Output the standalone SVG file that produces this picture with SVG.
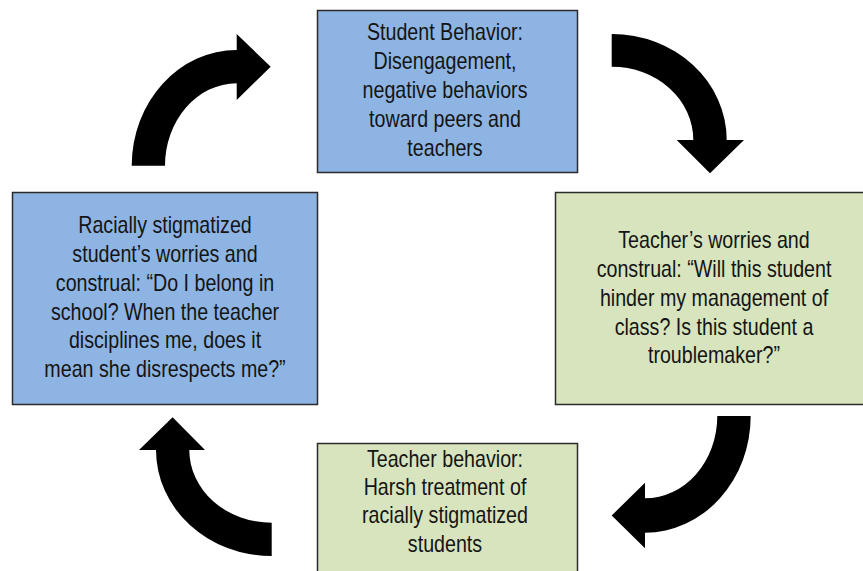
<svg xmlns="http://www.w3.org/2000/svg" width="863" height="571" viewBox="0 0 863 571">
<style>
  .blue { fill: #8EB4E3; stroke: #2b2b2b; stroke-width: 1.5; }
  .green { fill: #D7E4BD; stroke: #2b2b2b; stroke-width: 1.5; }
  .lbl { font-family: "Liberation Sans", Arial, sans-serif; font-size: 23px; fill: #141414; text-anchor: middle; }
  .arrow { fill: #000000; stroke: none; }
</style>
<rect x="0" y="0" width="863" height="571" fill="#ffffff"/>
<g id="connectors">
  <path class="arrow" d="M131.7,165.7 A105,115.7 0 0 1 236.7,50 L236.7,34 L270.7,66.7 L236.7,100 L236.7,83.3 A71.7,82.4 0 0 0 165,165.7 Z"/>
  <path class="arrow" d="M611.7,34 A115,106 0 0 1 726.7,140 L744,140 L710,173.3 L676.7,140 L693.3,140 A81.6,73.3 0 0 0 611.7,66.7 Z"/>
  <path class="arrow" d="M750.7,416 A105.7,116.7 0 0 1 645,532.7 L645,548.3 L611.7,515.5 L645,482.7 L645,498.3 A72.3,82.3 0 0 0 717.3,416 Z"/>
  <path class="arrow" d="M271.7,556 A115.7,106 0 0 1 156,450 L139,450 L172.6,417.3 L205,450 L189.3,450 A82.4,72.7 0 0 0 271.7,522.7 Z"/>
</g>
<g id="student-behavior">
  <rect class="blue" x="317.5" y="10.5" width="260" height="162"/>
  <g transform="translate(445,0) scale(0.855,1)">
    <text class="lbl" x="0" y="40">Student Behavior:</text>
    <text class="lbl" x="0" y="69">Disengagement,</text>
    <text class="lbl" x="0" y="98">negative behaviors</text>
    <text class="lbl" x="0" y="127">toward peers and</text>
    <text class="lbl" x="0" y="156.5">teachers</text>
  </g>
</g>
<g id="teacher-worries">
  <rect class="green" x="555.5" y="192.5" width="320" height="212"/>
  <g transform="translate(714,0) scale(0.855,1)">
    <text class="lbl" x="0" y="248.3">Teacher’s worries and</text>
    <text class="lbl" x="0" y="277">construal: “Will this student</text>
    <text class="lbl" x="0" y="305.8">hinder my management of</text>
    <text class="lbl" x="0" y="334.6">class? Is this student a</text>
    <text class="lbl" x="0" y="363.4">troublemaker?”</text>
  </g>
</g>
<g id="teacher-behavior">
  <rect class="green" x="317.5" y="443.5" width="260" height="140"/>
  <g transform="translate(445,0) scale(0.855,1)">
    <text class="lbl" x="0" y="466.7">Teacher behavior:</text>
    <text class="lbl" x="0" y="495">Harsh treatment of</text>
    <text class="lbl" x="0" y="523.3">racially stigmatized</text>
    <text class="lbl" x="0" y="551.7">students</text>
  </g>
</g>
<g id="student-worries">
  <rect class="blue" x="12.5" y="192.5" width="305" height="212"/>
  <g transform="translate(165,0) scale(0.855,1)">
    <text class="lbl" x="0" y="233.3">Racially stigmatized</text>
    <text class="lbl" x="0" y="262">student’s worries and</text>
    <text class="lbl" x="0" y="290.8">construal: “Do I belong in</text>
    <text class="lbl" x="0" y="319.6">school? When the teacher</text>
    <text class="lbl" x="0" y="348.4">disciplines me, does it</text>
    <text class="lbl" x="0" y="377.2">mean she disrespects me?”</text>
  </g>
</g>
</svg>
